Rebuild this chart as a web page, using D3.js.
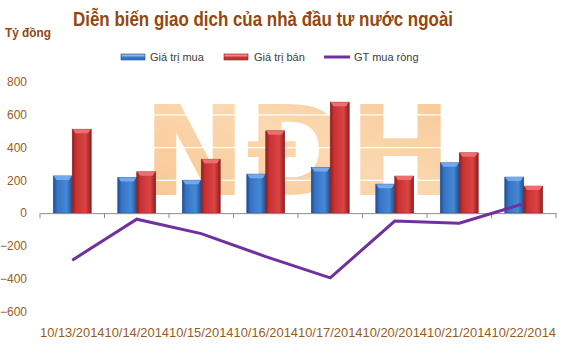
<!DOCTYPE html>
<html>
<head>
<meta charset="utf-8">
<script src="https://cdn.jsdelivr.net/npm/d3@7"></script>
<style>
  body { margin: 0; background: #fff; }
  text { font-family: "Liberation Sans", Arial, sans-serif; }
</style>
</head>
<body>
<div id="chart"></div>
<script>
var svgWidth = 568;
var svgHeight = 363;

// data
var dates = ["10/13/2014", "10/14/2014", "10/15/2014", "10/16/2014",
             "10/17/2014", "10/20/2014", "10/21/2014", "10/22/2014"];
var buyValues = [227, 218, 201, 238, 279, 177, 307, 220];
var sellValues = [512, 252, 329, 502, 677, 226, 368, 165];
var netValues = [-287, -37, -125, -265, -395, -48, -62, 58];
var yTicks = [-600, -400, -200, 0, 200, 400, 600, 800];
var seriesNames = ["Giá trị mua", "Giá trị bán", "GT mua ròng"];

var brown = "#94470f";
var tickColor = "#9a5b1e";

var svg = d3.select("#chart")
  .append("svg")
  .attr("width", svgWidth)
  .attr("height", svgHeight);

var defs = svg.append("defs");

function barGradient(id, dark, mid, light) {
  var g = defs.append("linearGradient").attr("id", id)
    .attr("x1", "0%").attr("x2", "100%").attr("y1", "0%").attr("y2", "0%");
  g.append("stop").attr("offset", "0%").attr("stop-color", dark);
  g.append("stop").attr("offset", "20%").attr("stop-color", mid);
  g.append("stop").attr("offset", "70%").attr("stop-color", light);
  g.append("stop").attr("offset", "100%").attr("stop-color", dark);
}
barGradient("gBlue", "#1f4f94", "#3574c4", "#4688d6");
barGradient("gRed", "#8e1f1f", "#c83232", "#dc4444");

var wm = defs.append("linearGradient").attr("id", "gWm")
  .attr("x1", "0%").attr("x2", "100%").attr("y1", "100%").attr("y2", "0%");
wm.append("stop").attr("offset", "0%").attr("stop-color", "#f8c48c");
wm.append("stop").attr("offset", "55%").attr("stop-color", "#fbd8b0");
wm.append("stop").attr("offset", "100%").attr("stop-color", "#f7c896");

// scales
var x = d3.scaleBand().domain(dates).range([40, 556]).padding(0);
var xSub = d3.scaleBand().domain(["buy", "sell"]).range([0, x.bandwidth()])
  .paddingInner(0).paddingOuter(0.7);
var y = d3.scaleLinear().domain([-600, 800]).range([311.5, 82]);

// watermark
svg.append("text")
  .attr("x", 143)
  .attr("y", 195)
  .attr("textLength", 309)
  .attr("lengthAdjust", "spacingAndGlyphs")
  .style("font-family", "DejaVu Sans")
  .style("font-weight", "bold")
  .style("font-size", "124px")
  .attr("fill", "url(#gWm)")
  .text("NĐH");

// white gridlines (only show over the watermark)
svg.append("g")
  .selectAll("line")
  .data(yTicks.filter(d => d > 0))
  .enter()
  .append("line")
  .attr("x1", 40).attr("x2", 556)
  .attr("y1", d => y(d)).attr("y2", d => y(d))
  .attr("stroke", "#ffffff")
  .attr("stroke-width", 1.3);

// bars
var rows = dates.map((d, i) => ({ date: d, buy: buyValues[i], sell: sellValues[i] }));
var groups = svg.append("g").selectAll("g")
  .data(rows)
  .enter()
  .append("g")
  .attr("transform", d => `translate(${x(d.date)},0)`);

var keys = [
  { key: "buy", fill: "url(#gBlue)", cap: "#78aef0", edge: "#234f8c" },
  { key: "sell", fill: "url(#gRed)", cap: "#f07474", edge: "#8a2020" }
];

keys.forEach(function(k) {
  var bw = xSub.bandwidth();
  groups.append("rect")
    .attr("x", xSub(k.key))
    .attr("y", d => y(d[k.key]))
    .attr("width", bw)
    .attr("height", d => y(0) - y(d[k.key]))
    .attr("fill", k.fill)
    .attr("stroke", k.edge)
    .attr("stroke-width", 0.6);
  groups.append("path")
    .attr("d", function(d) {
      var x0 = xSub(k.key), top = y(d[k.key]);
      return `M${x0 + 0.5},${top} L${x0 + bw - 0.5},${top} L${x0 + bw - 3},${top + 4} L${x0 + 3},${top + 4} Z`;
    })
    .attr("fill", k.cap)
    .attr("opacity", 0.9);
});

// x axis
var bottomAxis = d3.axisBottom(x).tickSize(0).tickFormat("");
svg.append("g")
  .attr("transform", `translate(0, ${y(0)})`)
  .call(bottomAxis)
  .call(g => g.select(".domain").attr("stroke", "#8c8c8c"));

svg.append("g")
  .selectAll("line")
  .data(dates.map(d => x(d)).concat([556]))
  .enter()
  .append("line")
  .attr("x1", d => d).attr("x2", d => d)
  .attr("y1", y(0)).attr("y2", y(0) + 5)
  .attr("stroke", "#8c8c8c");

// x labels
svg.append("g")
  .selectAll("text")
  .data(dates)
  .enter()
  .append("text")
  .attr("x", d => x(d))
  .attr("y", 337)
  .attr("textLength", x.bandwidth())
  .attr("lengthAdjust", "spacingAndGlyphs")
  .attr("fill", tickColor)
  .style("font-size", "12px")
  .text(d => d);

// y labels
var leftAxis = d3.axisLeft(y).tickValues(yTicks).tickSize(0).tickPadding(0);
svg.append("g")
  .attr("transform", "translate(27,0)")
  .call(leftAxis)
  .call(g => g.select(".domain").remove())
  .call(g => g.selectAll("text")
    .attr("fill", tickColor)
    .style("font-size", "12px")
    .style("font-family", "Liberation Sans"));

// net line
var line = d3.line()
  .x((d, i) => x(dates[i]) + x.bandwidth() / 2)
  .y(d => y(d));
svg.append("path")
  .datum(netValues)
  .attr("d", line)
  .attr("fill", "none")
  .attr("stroke", "#7030a0")
  .attr("stroke-width", 3)
  .attr("stroke-linejoin", "miter");

// title
svg.append("text")
  .attr("x", 73)
  .attr("y", 26)
  .attr("fill", brown)
  .attr("textLength", 380)
  .attr("lengthAdjust", "spacingAndGlyphs")
  .style("font-size", "20px")
  .style("font-weight", "bold")
  .text("Diễn biến giao dịch của nhà đầu tư nước ngoài");

svg.append("text")
  .attr("x", 5)
  .attr("y", 37)
  .attr("fill", brown)
  .attr("textLength", 46)
  .attr("lengthAdjust", "spacingAndGlyphs")
  .style("font-size", "13px")
  .style("font-weight", "bold")
  .text("Tỷ đồng");

// legend
var legend = svg.append("g").attr("transform", "translate(0,57)");
legend.append("rect").attr("x", 121).attr("y", -3).attr("width", 24).attr("height", 6)
  .attr("fill", "#3574c4").attr("stroke", "#234f8c").attr("stroke-width", 0.6);
legend.append("rect").attr("x", 121.5).attr("y", -2.5).attr("width", 23).attr("height", 2)
  .attr("fill", "#8ab9f2");
legend.append("rect").attr("x", 224).attr("y", -3).attr("width", 24).attr("height", 6)
  .attr("fill", "#c83232").attr("stroke", "#8a2020").attr("stroke-width", 0.6);
legend.append("rect").attr("x", 224.5).attr("y", -2.5).attr("width", 23).attr("height", 2)
  .attr("fill", "#f28a8a");
legend.append("line").attr("x1", 324).attr("x2", 350).attr("y1", 0).attr("y2", 0)
  .attr("stroke", "#7030a0").attr("stroke-width", 3);

legend.selectAll("text")
  .data(seriesNames)
  .enter()
  .append("text")
  .attr("x", (d, i) => [150, 254, 354][i])
  .attr("y", 4)
  .attr("fill", "#404040")
  .style("font-size", "11px")
  .text(d => d);
</script>
</body>
</html>
